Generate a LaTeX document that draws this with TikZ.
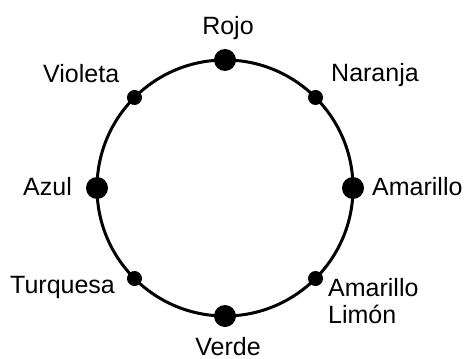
\documentclass[tikz,border=0pt]{standalone}
\usepackage{fontspec}
\setmainfont{Liberation Sans}
\usetikzlibrary{calc}
\begin{document}
\begin{tikzpicture}[x=1pt,y=-1pt,
  lbl/.style={inner sep=0pt,font=\fontsize{25}{27}\selectfont},
  bigdot/.style={circle,fill=black,inner sep=0pt,minimum size=22pt},
  smalldot/.style={circle,fill=black,inner sep=0pt,minimum size=15pt}]
\useasboundingbox (0,0) rectangle (470,358);
\coordinate (c) at (225,188);
\draw[line width=3pt] (c) circle[radius=128pt];
\node[bigdot] (rojo) at ($(c)+(90:128pt)$) {};
\node[smalldot] (naranja) at ($(c)+(45:128pt)$) {};
\node[bigdot] (amarillo) at ($(c)+(0:128pt)$) {};
\node[smalldot] (limon) at ($(c)+(-45:128pt)$) {};
\node[bigdot] (verde) at ($(c)+(-90:128pt)$) {};
\node[smalldot] (turquesa) at ($(c)+(-135:128pt)$) {};
\node[bigdot] (azul) at ($(c)+(180:128pt)$) {};
\node[smalldot] (violeta) at ($(c)+(135:128pt)$) {};
\node[lbl,anchor=base] (trojo) at (228,35) {Rojo};
\node[lbl,anchor=base west] (tnaranja) at (331,82) {Naranja};
\node[lbl,anchor=base west] (tamarillo) at (372,195) {Amarillo};
\node[lbl,anchor=base west,align=left] (tlimon) at (328,323) {Amarillo\\Limón};
\node[lbl,anchor=base] (tverde) at (228,355) {Verde};
\node[lbl,anchor=base west] (tturquesa) at (10,293) {Turquesa};
\node[lbl,anchor=base west] (tazul) at (23,195) {Azul};
\node[lbl,anchor=base west] (tvioleta) at (43,83) {Violeta};
\end{tikzpicture}
\end{document}
